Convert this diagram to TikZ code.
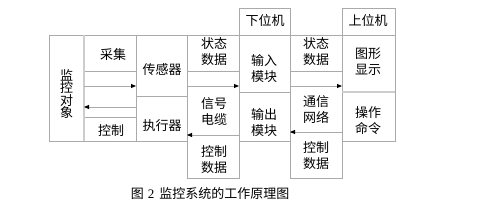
\documentclass[tikz,border=0pt]{standalone}
\usepackage{fontspec}
\setmainfont{Liberation Serif}
\newfontfamily\cjk{Noto Sans CJK SC}
\usetikzlibrary{arrows.meta}
\definecolor{LnGray}{RGB}{170,170,170}
\definecolor{LnLight}{RGB}{205,205,205}

\begin{document}
\begin{tikzpicture}[x=1pt, y=-1pt,
    cell/.style={draw=LnGray, line width=0.9pt, anchor=north west,
                 inner sep=0pt, outer sep=0pt},
    txt/.style={font=\cjk\fontsize{13}{16}\selectfont, align=center, inner sep=0pt},
    vtxt/.style={font=\cjk\fontsize{13}{12.5}\selectfont, align=center, inner sep=0pt},
    arr/.style={draw=LnGray, line width=0.9pt,
                -{Triangle[length=5pt, width=4pt, color=black]}}
  ]
  \useasboundingbox (0,0) rectangle (481,213);

  % headers
  \node[cell, minimum width=51pt, minimum height=27pt] (lo) at (239,8) {};
  \node[cell, minimum width=53pt, minimum height=27pt] (hi) at (342,8) {};
  \node[txt] (tLo) at (265,21) {下位机};
  \node[txt] (tHi) at (368,21) {上位机};

  % object and its links
  \node[cell, minimum width=35pt, minimum height=106pt] (obj) at (49,35) {};
  \node[vtxt] (tObj) at (66.5,94) {监\\控\\对\\象};
  \node[cell, minimum width=52pt, minimum height=36pt] (acq) at (84,35) {};
  \node[cell, minimum width=52pt, minimum height=24pt] (ctl) at (84,117) {};
  \node[txt] (tAcq) at (113,55) {采集};
  \node[txt] (tCtl) at (111,131) {控制};

  % sensor / actuator
  \node[cell, minimum width=51pt, minimum height=61pt] (sens) at (136,35) {};
  \node[cell, minimum width=51pt, minimum height=45pt] (act) at (136,96) {};
  \node[txt] (tSens) at (162,70) {传感器};
  \node[txt] (tAct) at (162,126) {执行器};

  % cable column
  \node[cell, minimum width=52pt, minimum height=36pt] (st1) at (187,35) {};
  \node[cell, minimum width=52pt, minimum height=43pt] (cd1) at (187,135) {};
  \node[txt] (tSt1) at (214,52) {状态\\数据};
  \node[txt] (tCab) at (214,112) {信号\\电缆};
  \node[txt] (tCd1) at (214,160) {控制\\数据};

  % lower computer modules
  \node[cell, minimum width=51pt, minimum height=57pt] (inmod) at (239,35) {};
  \node[cell, minimum width=51pt, minimum height=49pt] (outmod) at (239,92) {};
  \node[txt] (tIn) at (264,69) {输入\\模块};
  \node[txt] (tOut) at (264,123) {输出\\模块};

  % network column
  \node[cell, minimum width=52pt, minimum height=36pt] (st2) at (290,35) {};
  \node[cell, minimum width=52pt, minimum height=46pt] (cd2) at (290,132) {};
  \node[txt] (tSt2) at (316,52) {状态\\数据};
  \node[txt] (tNet) at (316,110) {通信\\网络};
  \node[txt] (tCd2) at (316,156) {控制\\数据};

  % upper computer
  \node[cell, minimum width=53pt, minimum height=57pt] (gfx) at (342,35) {};
  \node[cell, minimum width=53pt, minimum height=49pt] (cmd) at (342,92) {};
  \node[txt] (tGfx) at (368,62) {图形\\显示};
  \node[txt] (tCmd) at (368,121) {操作\\命令};

  % heavier dividers
  \draw[LnLight, line width=2pt] (obj.north east) -- (obj.south east);
  \draw[LnLight, line width=2pt] (gfx.south west) -- (gfx.south east);

  % data flow
  \coordinate (r1) at (0,86);
  \coordinate (r2) at (0,107);
  \coordinate (r3) at (0,135);
  \coordinate (r4) at (0,132);
  \draw[arr] (obj.east |- r1) -- (sens.west |- r1);
  \draw[arr] (sens.east |- r1) -- (inmod.west |- r1);
  \draw[arr] (inmod.east |- r1) -- (gfx.west |- r1);
  \draw[arr] (act.west |- r2) -- (obj.east |- r2);
  \draw[arr] (outmod.west |- r3) -- (act.east |- r3);
  \draw[arr] (cmd.west |- r4) -- (outmod.east |- r4);

  \node[font=\fontsize{13}{16}\selectfont, inner sep=0pt] (cap) at (210,194)
        {{\cjk 图}\hspace{4pt}2\hspace{5pt}{\cjk 监控系统的工作原理图}};
\end{tikzpicture}
\end{document}
